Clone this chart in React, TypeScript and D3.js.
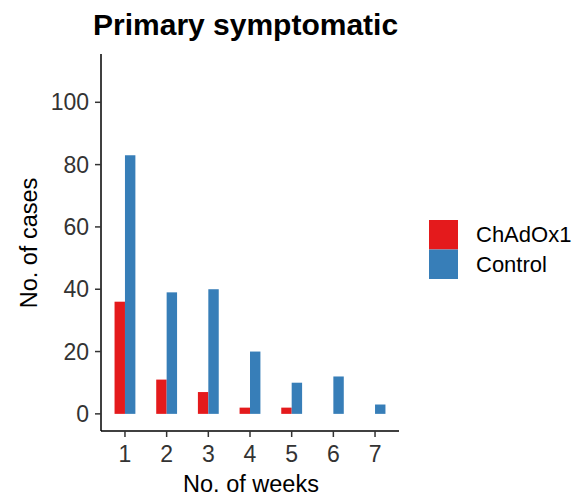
import React from 'react';
import * as d3 from 'd3';

// data
const weeks = [1, 2, 3, 4, 5, 6, 7];
const chadox1 = [36, 11, 7, 2, 2, 0, 0];
const control = [83, 39, 40, 20, 10, 12, 3];
const seriesNames = ['ChAdOx1', 'Control'];
const seriesColors = ['#E41A1C', '#377EB8'];
const yTicks = [0, 20, 40, 60, 80, 100];

const FONT = "'Liberation Sans', Arial, Helvetica, sans-serif";

export default function App() {
  const width = 582;
  const height = 500;

  // scales (ggplot-style 5% expansion)
  const x = d3.scaleLinear().domain([0.425, 7.575]).range([101, 399]);
  const y = d3.scaleLinear().domain([-5.5, 115.5]).range([431, 54]);
  const dodge = d3.scaleBand().domain(seriesNames).range([-0.25, 0.25]);

  const seriesValues = [chadox1, control];
  const bw = x(dodge.bandwidth()) - x(0);

  return (
    <svg width={width} height={height} style={{ display: 'block', position: 'absolute', left: 0, top: 0 }}>
      <rect width={width} height={height} fill="#fff" />
      <text x={93} y={35} fontFamily={FONT} fontWeight="bold" fontSize={30} fill="#000">
        Primary symptomatic
      </text>

      {/* bars */}
      {seriesNames.map((s, si) =>
        weeks.map((w, i) => {
          const v = seriesValues[si][i];
          if (!v) return null;
          return (
            <rect
              key={s + w}
              x={x(w + (dodge(s) as number))}
              y={y(v)}
              width={bw}
              height={y(0) - y(v)}
              fill={seriesColors[si]}
            />
          );
        })
      )}

      {/* y axis */}
      <line x1={x.range()[0]} x2={x.range()[0]} y1={y.range()[1]} y2={y.range()[0]} stroke="#000" strokeWidth={1.5} />
      {yTicks.map(t => (
        <g key={t} transform={`translate(${x.range()[0]},${y(t)})`}>
          <line x1={-6} x2={0} stroke="#333" strokeWidth={1.5} />
          <text x={-12} dy="0.35em" textAnchor="end" fontFamily={FONT} fontSize={23} fill="#333">
            {t}
          </text>
        </g>
      ))}

      {/* x axis */}
      <line x1={x.range()[0]} x2={x.range()[1]} y1={y.range()[0]} y2={y.range()[0]} stroke="#000" strokeWidth={1.5} />
      {weeks.map(w => (
        <g key={w} transform={`translate(${x(w)},${y.range()[0]})`}>
          <line y1={0} y2={6} stroke="#333" strokeWidth={1.5} />
          <text y={31} textAnchor="middle" fontFamily={FONT} fontSize={23} fill="#333">
            {w}
          </text>
        </g>
      ))}

      {/* axis titles */}
      <text x={251} y={492} textAnchor="middle" fontFamily={FONT} fontSize={23.5} fill="#000">
        No. of weeks
      </text>
      <text transform="translate(37,243) rotate(-90)" textAnchor="middle" fontFamily={FONT} fontSize={23.5} fill="#000">
        No. of cases
      </text>

      {/* legend */}
      {seriesNames.map((s, i) => (
        <g key={s} transform={`translate(429,${220 + i * 29.5})`}>
          <rect width={29} height={29.5} fill={seriesColors[i]} />
          <text x={47} y={22} fontFamily={FONT} fontSize={22} fill="#000">
            {s}
          </text>
        </g>
      ))}
    </svg>
  );
}
